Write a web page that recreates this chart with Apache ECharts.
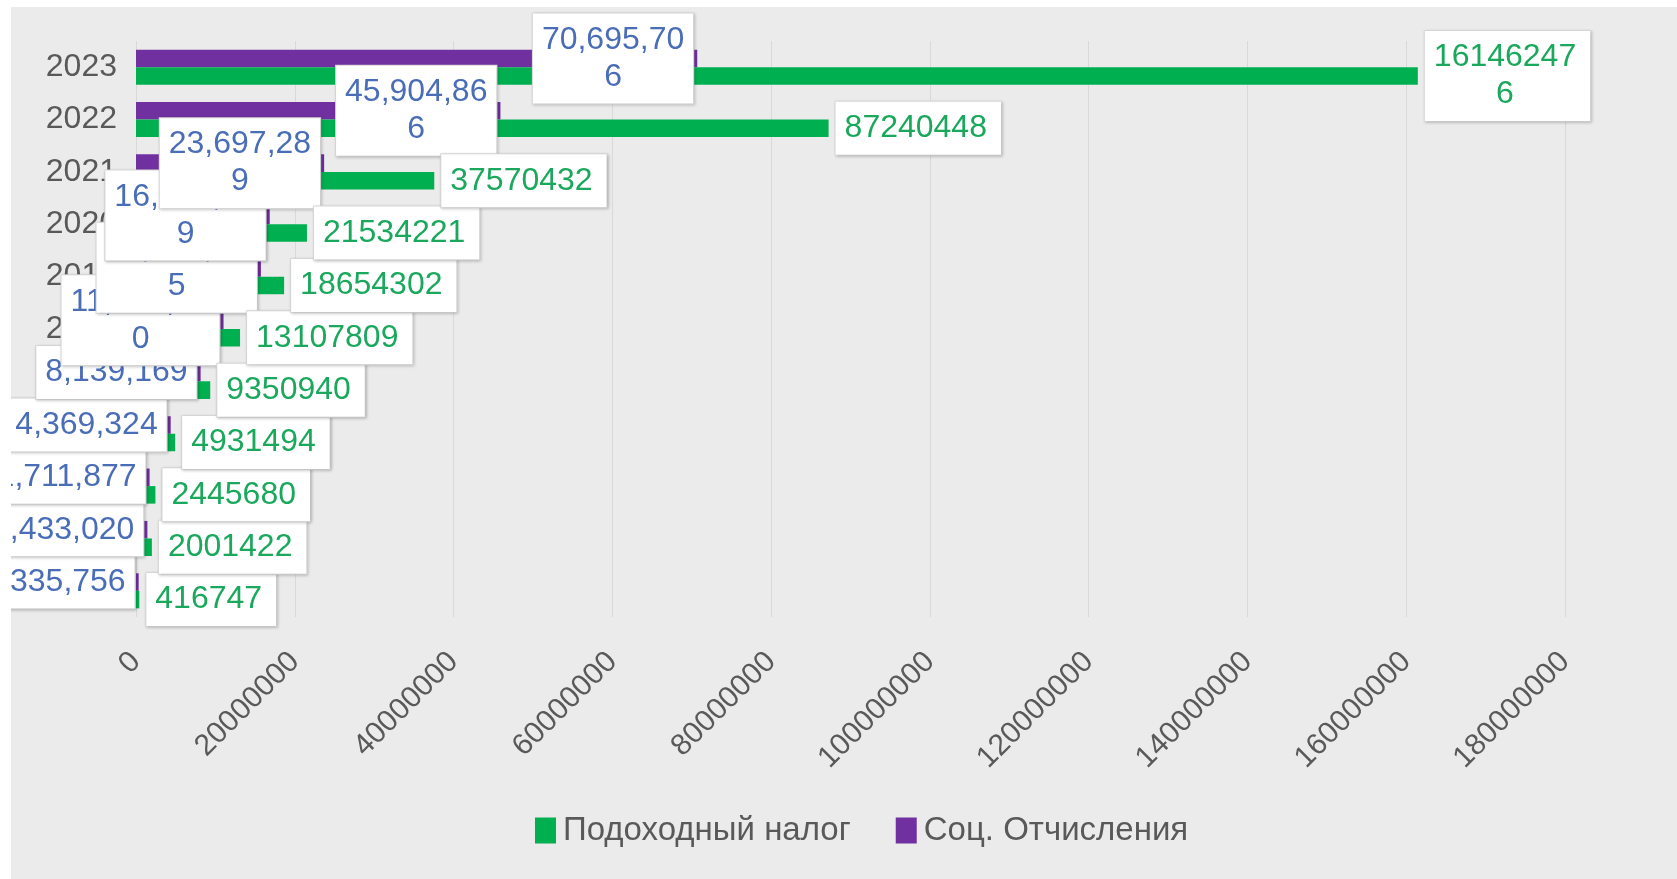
<!DOCTYPE html>
<html><head><meta charset="utf-8">
<script src="https://cdn.jsdelivr.net/npm/echarts@6/dist/echarts.min.js"></script>
<style>
html,body{margin:0;padding:0;background:#fff;width:1677px;height:879px;overflow:hidden}
#chart{position:absolute;left:11px;top:7px;width:1666px;height:872px;background:#ebebeb}
</style></head><body><div id="chart"></div>
<script>
const years = ['2013','2014','2015','2016','2017','2018','2019','2020','2021','2022','2023'];
const incomeTax = [416747, 2001422, 2445680, 4931494, 9350940, 13107809, 18654302, 21534221, 37570432, 87240448, 161462476];
const socialContrib = [335756, 1433020, 1711877, 4369324, 8139169, 11024870, 15736245, 16843519, 23697289, 45904866, 70695706];
const seriesNames = ['Подоходный налог', 'Соц. Отчисления'];
const axisMax = 180000000;
const axisStep = 20000000;

const FONT = '"Liberation Sans", Arial, sans-serif';
const chart = echarts.init(document.getElementById('chart'));

// wrap a label string into lines of at most n characters, each centred in the box
function wrapCentered(s, n) {
  const parts = [];
  for (let i = 0; i < s.length; i += n) parts.push('{c|' + s.slice(i, i + n) + '}');
  return parts.join('\n');
}

function boxLabel(color, extra) {
  return Object.assign({
    show: true,
    backgroundColor: '#ffffff',
    borderColor: '#d9d9d9',
    borderWidth: 1,
    shadowColor: 'rgba(0,0,0,0.18)',
    shadowBlur: 3,
    shadowOffsetX: 1,
    shadowOffsetY: 1,
    fontFamily: FONT,
    fontSize: 32,
    lineHeight: 37,
    color: color,
    rich: { c: { align: 'center', color: color, fontFamily: FONT, fontSize: 32, lineHeight: 37 } }
  }, extra);
}

chart.setOption({
  animation: false,
  backgroundColor: '#ebebeb',
  grid: { left: 125, right: 112, top: 34, bottom: 262, containLabel: false },
  legend: {
    data: seriesNames,
    left: 519,
    top: 802,
    itemWidth: 21,
    itemHeight: 26,
    itemGap: 45,
    icon: 'rect',
    textStyle: { fontFamily: FONT, fontSize: 33, color: '#595959', padding: [0, 0, 0, 2] }
  },
  xAxis: {
    type: 'value',
    min: 0,
    max: axisMax,
    interval: axisStep,
    axisLine: { show: false },
    axisTick: { show: false },
    splitLine: { show: true, lineStyle: { color: '#d9d9d9', width: 1 } },
    axisLabel: {
      rotate: 45,
      margin: 40,
      fontFamily: FONT,
      fontSize: 30,
      color: '#595959',
      formatter: v => String(v)
    }
  },
  yAxis: {
    type: 'category',
    data: years,
    axisLine: { show: false },
    axisTick: { show: false },
    axisLabel: { margin: 19, fontFamily: FONT, fontSize: 32, color: '#595959' }
  },
  series: [
    {
      name: seriesNames[1],
      type: 'bar',
      data: socialContrib,
      barGap: '0%',
      barCategoryGap: '33%',
      itemStyle: { color: '#7030A0' },
      label: boxLabel('#4a6db8', {
        position: 'insideRight',
        distance: 4,
        padding: [8, 9, 8, 9],
        formatter: p => wrapCentered(p.value.toLocaleString('en-US'), 9)
      })
    },
    {
      name: seriesNames[0],
      type: 'bar',
      data: incomeTax,
      barGap: '0%',
      barCategoryGap: '33%',
      itemStyle: { color: '#00B050' },
      label: boxLabel('#1aa85c', {
        position: 'right',
        distance: 7,
        padding: [8, 14, 8, 9],
        formatter: p => wrapCentered(String(p.value), 8)
      })
    }
  ]
});
</script></body></html>
